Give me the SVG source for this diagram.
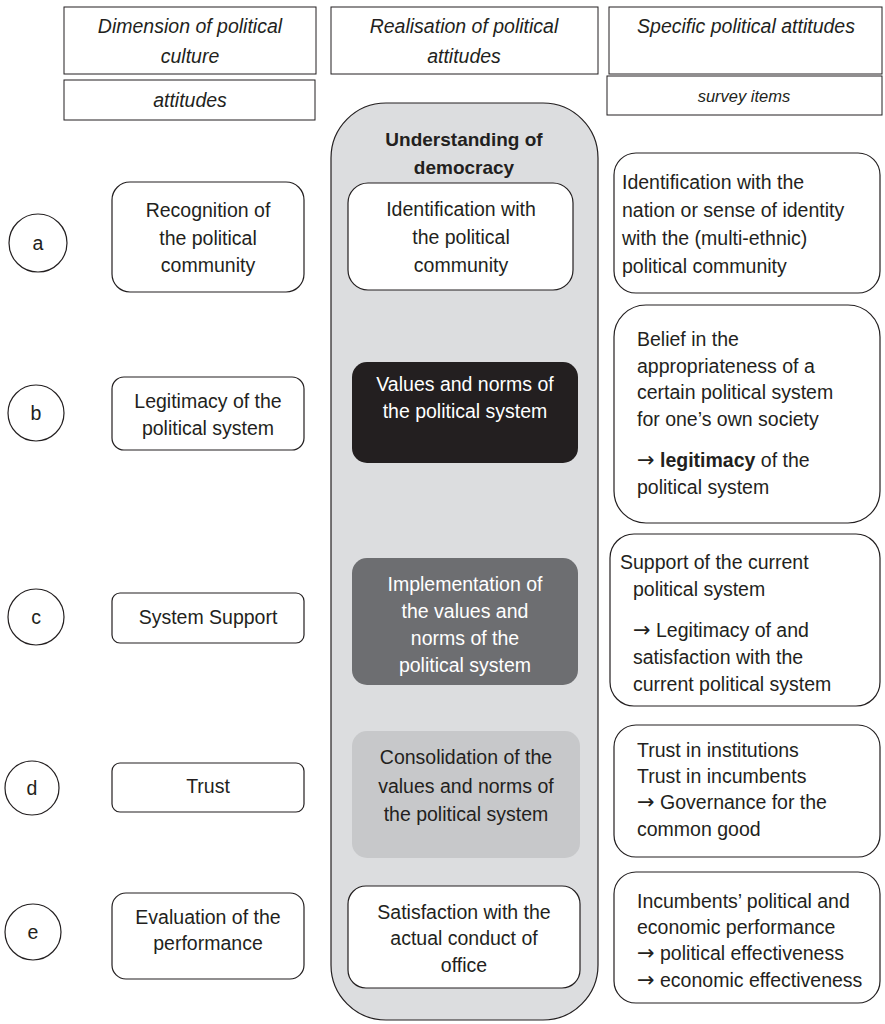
<svg xmlns="http://www.w3.org/2000/svg" width="885" height="1024" viewBox="0 0 885 1024">
<style>
text{font-family:"Liberation Sans",Arial,sans-serif;font-size:19.5px;fill:#231f20}
.c{text-anchor:middle}
.i{font-style:italic}
.w{fill:#ffffff}
.b{font-weight:bold}
.ar{font-family:"DejaVu Sans",sans-serif;font-size:21px}
.hdr{fill:#fff;stroke:#231f20;stroke-width:1}
.box{fill:#fff;stroke:#231f20;stroke-width:1.2}
.circ{fill:#fff;stroke:#231f20;stroke-width:1.2}
</style>
<rect width="885" height="1024" fill="#fff"/>
<g id="headers">
<rect class="hdr" x="64" y="7" width="252" height="67"/>
<text class="c i" x="190" y="33">Dimension of political</text>
<text class="c i" x="190" y="63">culture</text>
<rect class="hdr" x="331" y="7" width="267" height="67"/>
<text class="c i" x="464" y="33">Realisation of political</text>
<text class="c i" x="464" y="63">attitudes</text>
<rect class="hdr" x="609" y="7" width="273" height="67"/>
<text class="c i" x="746" y="33">Specific political attitudes</text>
<rect class="hdr" x="64" y="80" width="251" height="40"/>
<text class="c i" x="190" y="107">attitudes</text>
<rect class="hdr" x="607" y="76" width="275" height="39"/>
<text class="c i" x="744" y="102" style="font-size:16.5px">survey items</text>
</g>
<g id="democracy">
<rect x="331" y="103" width="267" height="917" rx="55" ry="55" fill="#dcdddf" stroke="#231f20" stroke-width="1.2"/>
<text class="c b" x="464" y="146" style="font-size:19px">Understanding of</text>
<text class="c b" x="464" y="174" style="font-size:19px">democracy</text>
</g>
<g id="mid-a">
<rect class="box" x="348" y="183" width="225" height="107" rx="20"/>
<text class="c" x="461" y="216">Identification with</text>
<text class="c" x="461" y="244">the political</text>
<text class="c" x="461" y="272">community</text>
</g>
<g id="mid-b">
<rect x="352" y="362" width="226" height="101" rx="15" fill="#231f20"/>
<text class="c w" x="465" y="391">Values and norms of</text>
<text class="c w" x="465" y="418">the political system</text>
</g>
<g id="mid-c">
<rect x="352" y="558" width="226" height="127" rx="15" fill="#6d6e71"/>
<text class="c w" x="465" y="591">Implementation of</text>
<text class="c w" x="465" y="618">the values and</text>
<text class="c w" x="465" y="645">norms of the</text>
<text class="c w" x="465" y="672">political system</text>
</g>
<g id="mid-d">
<rect x="352" y="731" width="228" height="127" rx="15" fill="#c7c8ca"/>
<text class="c" x="466" y="764">Consolidation of the</text>
<text class="c" x="466" y="793">values and norms of</text>
<text class="c" x="466" y="821">the political system</text>
</g>
<g id="mid-e">
<rect class="box" x="348" y="886" width="232" height="102" rx="18"/>
<text class="c" x="464" y="919">Satisfaction with the</text>
<text class="c" x="464" y="945">actual conduct of</text>
<text class="c" x="464" y="972">office</text>
</g>
<g id="left-a">
<circle class="circ" cx="38" cy="243" r="29"/>
<text class="c" x="38" y="250">a</text>
<rect class="box" x="112" y="182" width="192" height="110" rx="18"/>
<text class="c" x="208" y="217">Recognition of</text>
<text class="c" x="208" y="245">the political</text>
<text class="c" x="208" y="272">community</text>
</g>
<g id="left-b">
<circle class="circ" cx="36" cy="413" r="28"/>
<text class="c" x="36" y="420">b</text>
<rect class="box" x="112" y="377" width="192" height="73" rx="12"/>
<text class="c" x="208" y="408">Legitimacy of the</text>
<text class="c" x="208" y="435">political system</text>
</g>
<g id="left-c">
<circle class="circ" cx="36" cy="617" r="28"/>
<text class="c" x="36" y="624">c</text>
<rect class="box" x="112" y="593" width="192" height="50" rx="8"/>
<text class="c" x="208" y="624">System Support</text>
</g>
<g id="left-d">
<circle class="circ" cx="32" cy="788" r="27"/>
<text class="c" x="32" y="795">d</text>
<rect class="box" x="112" y="763" width="192" height="49" rx="8"/>
<text class="c" x="208" y="793">Trust</text>
</g>
<g id="left-e">
<circle class="circ" cx="33" cy="932" r="28"/>
<text class="c" x="33" y="939">e</text>
<rect class="box" x="112" y="893" width="192" height="86" rx="14"/>
<text class="c" x="208" y="924">Evaluation of the</text>
<text class="c" x="208" y="950">performance</text>
</g>
<g id="right-a">
<rect class="box" x="614" y="153" width="266" height="140" rx="22"/>
<text x="622" y="189">Identification with the</text>
<text x="622" y="217">nation or sense of identity</text>
<text x="622" y="245">with the (multi-ethnic)</text>
<text x="622" y="273">political community</text>
</g>
<g id="right-b">
<rect class="box" x="614" y="305" width="266" height="218" rx="32"/>
<text x="637" y="346">Belief in the</text>
<text x="637" y="373">appropriateness of a</text>
<text x="637" y="399">certain political system</text>
<text x="637" y="426">for one’s own society</text>
<text x="637" y="467"><tspan class="ar">→</tspan> <tspan class="b">legitimacy</tspan> of the</text>
<text x="637" y="494">political system</text>
</g>
<g id="right-c">
<rect class="box" x="610" y="534" width="270" height="172" rx="24"/>
<text x="620" y="569">Support of the current</text>
<text x="633" y="596">political system</text>
<text x="633" y="637"><tspan class="ar">→</tspan> Legitimacy of and</text>
<text x="633" y="664">satisfaction with the</text>
<text x="633" y="691">current political system</text>
</g>
<g id="right-d">
<rect class="box" x="614" y="725" width="266" height="132" rx="22"/>
<text x="637" y="757">Trust in institutions</text>
<text x="637" y="783">Trust in incumbents</text>
<text x="637" y="809"><tspan class="ar">→</tspan> Governance for the</text>
<text x="637" y="836">common good</text>
</g>
<g id="right-e">
<rect class="box" x="614" y="872" width="266" height="131" rx="22"/>
<text x="637" y="908">Incumbents’ political and</text>
<text x="637" y="934">economic performance</text>
<text x="637" y="960"><tspan class="ar">→</tspan> political effectiveness</text>
<text x="637" y="987"><tspan class="ar">→</tspan> economic effectiveness</text>
</g>
<g id="connectors"></g>
</svg>
